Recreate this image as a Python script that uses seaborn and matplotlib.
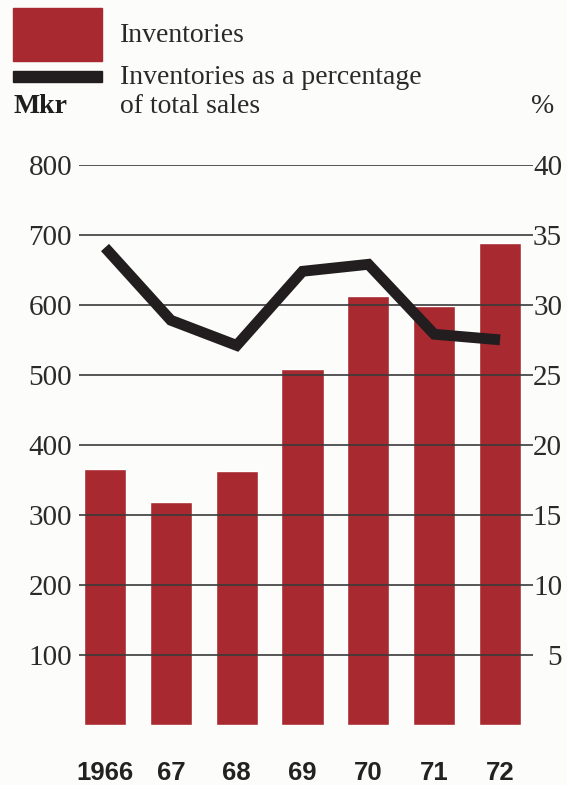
import matplotlib
matplotlib.use("Agg")
import matplotlib.pyplot as plt
from matplotlib.patches import Rectangle
import seaborn as sns
import pandas as pd

years = ["1966", "67", "68", "69", "70", "71", "72"]
inventories = [365, 318, 362, 509, 612, 599, 689]
pct_of_sales = [34.1, 28.9, 27.1, 32.4, 32.9, 27.9, 27.5]
left_ticks = [100, 200, 300, 400, 500, 600, 700, 800]
right_ticks = [5, 10, 15, 20, 25, 30, 35, 40]

BAR = "#a8292f"
LINE = "#221e1f"
GRID = "#3a3a3a"
BG = "#fcfcfa"
TXT = "#2a2a2a"

sns.set_theme(style="white")
plt.rcParams["font.family"] = ["Liberation Serif", "DejaVu Serif"]

df = pd.DataFrame({"year": years, "inv": inventories, "pct": pct_of_sales,
                   "pos": range(len(years))})

fig = plt.figure(figsize=(5.67, 7.85), dpi=100, facecolor=BG)
W, H = 567, 785
ax = fig.add_axes([79 / W, 1 - 724.5 / H, (533 - 79) / W, (724.5 - 165) / H])
ax.set_facecolor("none")

sns.barplot(data=df, x="year", y="inv", color=BAR, saturation=1, width=0.64,
            ax=ax, zorder=1)
ax.set_xlim(-0.395, 6.50)
ax.set_ylim(0, 800)
ax.set_yticks(left_ticks)
ax.set_yticklabels([str(v) for v in left_ticks], fontsize=21, color=TXT)
ax.tick_params(axis="y", length=0, pad=5)
ax.tick_params(axis="x", length=0, pad=26)
for lab in ax.get_xticklabels():
    lab.set_fontfamily(["Liberation Sans", "DejaVu Sans"])
    lab.set_fontweight("bold")
    lab.set_fontsize(18.5)
    lab.set_color("#222222")
ax.set_xlabel("")
ax.set_ylabel("")
for v in left_ticks:
    ax.axhline(v, color=GRID, lw=1.2, zorder=2)
for s in ax.spines.values():
    s.set_visible(False)

ax2 = ax.twinx()
sns.lineplot(data=df, x="pos", y="pct", color=LINE, lw=7.8, ax=ax2,
             zorder=5, solid_joinstyle="miter", solid_capstyle="butt")
ax2.set_ylim(0, 40)
ax2.set_xlim(-0.395, 6.50)
ax2.set_yticks(right_ticks)
ax2.set_yticklabels([str(v) for v in right_ticks], fontsize=21, color=TXT,
                    ha="right")
ax2.tick_params(axis="y", length=0, pad=21)
ax2.set_ylabel("")
ax2.set_xlabel("")
for s in ax2.spines.values():
    s.set_visible(False)

# Header / legend
fig.patches.append(Rectangle((13 / W, 1 - 61 / H), (102 - 13) / W, (61 - 8) / H,
                             transform=fig.transFigure, color=BAR, zorder=3))
fig.patches.append(Rectangle((13 / W, 1 - 82 / H), (102 - 13) / W, 11 / H,
                             transform=fig.transFigure, color=LINE, zorder=3))
fig.text(120 / W, 1 - 42 / H, "Inventories", fontsize=20, va="baseline",
         ha="left", color=TXT)
fig.text(120 / W, 1 - 84 / H, "Inventories as a percentage", fontsize=20,
         va="baseline", ha="left", color=TXT)
fig.text(120 / W, 1 - 113 / H, "of total sales", fontsize=20, va="baseline",
         ha="left", color=TXT)
fig.text(14 / W, 1 - 113 / H, "Mkr", fontsize=20, fontweight="bold",
         va="baseline", ha="left", color="#1e1e1e")
fig.text(554 / W, 1 - 113 / H, "%", fontsize=20, va="baseline", ha="right",
         color=TXT)

fig.savefig("out.png", dpi=100, facecolor=BG)
